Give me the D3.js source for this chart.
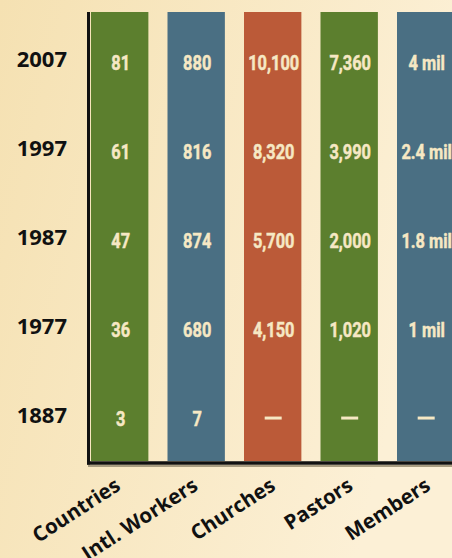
<!DOCTYPE html>
<html>
<head>
<meta charset="utf-8">
<script src="https://cdn.jsdelivr.net/npm/d3@7"></script>
<style>
  html, body { margin: 0; padding: 0; background: #f8e8c2; }
  svg { display: block; }
</style>
</head>
<body>
<svg></svg>
<script>
// table-like column chart: every column is full height, values shown as text
const categories = ["Countries", "Intl. Workers", "Churches", "Pastors", "Members"];
const years = ["2007", "1997", "1987", "1977", "1887"];
const colors = ["#5c7f2e", "#4a6f83", "#bb5a38", "#5c7f2e", "#4a6f83"];

// one array per column, in the order of years (null = no data, drawn as a dash)
const countries = ["81", "61", "47", "36", "3"];
const workers   = ["880", "816", "874", "680", "7"];
const churches  = ["10,100", "8,320", "5,700", "4,150", null];
const pastors   = ["7,360", "3,990", "2,000", "1,020", null];
const members   = ["4 mil", "2.4 mil", "1.8 mil", "1 mil", null];

const columns = [countries, workers, churches, pastors, members];

const width = 452;
const height = 558;
const chartLeft = 91, chartTop = 12, chartBottom = 461;

const svg = d3.select("svg")
    .attr("width", width)
    .attr("height", height);

// parchment-ish background
const defs = svg.append("defs");
const grad = defs.append("linearGradient")
    .attr("id", "bg")
    .attr("x1", 0).attr("y1", 0).attr("x2", 1).attr("y2", 0.3);
grad.append("stop").attr("offset", "0%").attr("stop-color", "#f5e1b2");
grad.append("stop").attr("offset", "100%").attr("stop-color", "#fcf0d6");

svg.append("rect")
    .attr("width", width)
    .attr("height", height)
    .attr("fill", "url(#bg)");

const x = d3.scaleBand()
    .domain(categories)
    .range([chartLeft, chartLeft + 76.5 * 4.75])
    .paddingInner(0.25)
    .paddingOuter(0);

// rows of the table
const y = d3.scaleBand()
    .domain(years)
    .range([14.5, 459]);

// columns
svg.selectAll("rect.col")
    .data(categories)
    .enter()
    .append("rect")
    .attr("class", "col")
    .attr("x", d => x(d))
    .attr("y", chartTop)
    .attr("width", x.bandwidth())
    .attr("height", chartBottom - chartTop)
    .attr("fill", (d, i) => colors[i]);

// cells
const cells = [];
categories.forEach((c, i) => {
    years.forEach((yr, j) => {
        cells.push({ cat: c, year: yr, value: columns[i][j] });
    });
});

svg.selectAll("text.val")
    .data(cells.filter(d => d.value !== null))
    .enter()
    .append("text")
    .attr("class", "val")
    .attr("transform", d => `translate(${x(d.cat) + x.bandwidth() / 2 + 1},${y(d.year) + y.bandwidth() / 2 + 11}) scale(0.78,1)`)
    .attr("text-anchor", "middle")
    .attr("font-family", "Roboto, sans-serif")
    .attr("font-weight", "bold")
    .attr("font-size", "21px")
    .attr("fill", "#f6e8c4")
    .attr("stroke", "#f6e8c4")
    .attr("stroke-width", 0.5)
    .text(d => d.value);

svg.selectAll("rect.dash")
    .data(cells.filter(d => d.value === null))
    .enter()
    .append("rect")
    .attr("class", "dash")
    .attr("x", d => x(d.cat) + x.bandwidth() / 2 - 8)
    .attr("y", d => y(d.year) + y.bandwidth() / 2 + 2)
    .attr("width", 17)
    .attr("height", 3)
    .attr("fill", "#f6e8c4");

// axes lines (left and bottom)
svg.append("line")
    .attr("x1", chartLeft - 3).attr("x2", width)
    .attr("y1", chartBottom + 5).attr("y2", chartBottom + 5)
    .attr("stroke", "#a89c80")
    .attr("stroke-width", 2);

svg.append("line")
    .attr("x1", chartLeft - 2.5).attr("x2", chartLeft - 2.5)
    .attr("y1", chartTop).attr("y2", chartBottom + 3.5)
    .attr("stroke", "#111")
    .attr("stroke-width", 3);

svg.append("line")
    .attr("x1", chartLeft - 4).attr("x2", width)
    .attr("y1", chartBottom + 2).attr("y2", chartBottom + 2)
    .attr("stroke", "#111")
    .attr("stroke-width", 3.5);

// year labels
svg.selectAll("text.year")
    .data(years)
    .enter()
    .append("text")
    .attr("class", "year")
    .attr("x", 67)
    .attr("y", d => y(d) + y.bandwidth() / 2 + 8)
    .attr("text-anchor", "end")
    .attr("font-family", "'Open Sans', sans-serif")
    .attr("font-weight", "bold")
    .attr("font-size", "22px")
    .attr("fill", "#111")
    .text(d => d);

// category labels, rotated
svg.selectAll("text.cat")
    .data(categories)
    .enter()
    .append("text")
    .attr("class", "cat")
    .attr("text-anchor", "end")
    .attr("transform", (d, i) => `translate(${x(d) + x.bandwidth() / 2 + 2 + i},${chartBottom + 28}) rotate(-33)`)
    .attr("font-family", "'Open Sans', sans-serif")
    .attr("font-weight", "bold")
    .attr("font-size", "20.5px")
    .attr("fill", "#111")
    .text(d => d);
</script>
</body>
</html>
